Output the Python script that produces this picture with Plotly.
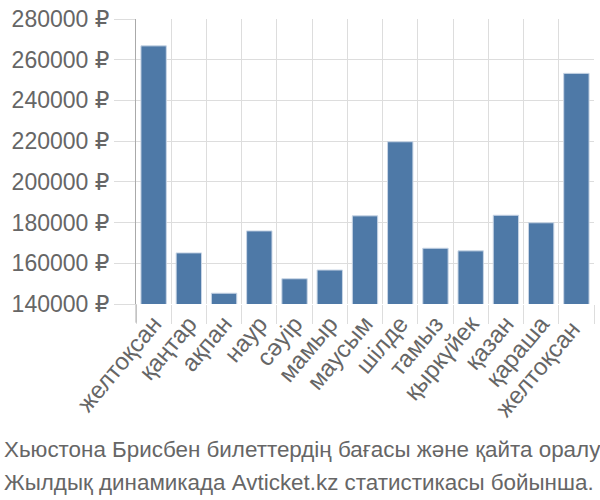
import plotly.graph_objects as go

months = ["желтоқсан", "қаңтар", "ақпан", "наур", "сәуір", "мамыр", "маусым",
          "шілде", "тамыз", "қыркүйек", "қазан", "қараша", "желтоқсан "]
prices = [266800, 165100, 145300, 175900, 152400, 156700, 183300,
          219700, 167400, 166100, 183600, 179900, 253300]
y_ticks = [140000, 160000, 180000, 200000, 220000, 240000, 260000, 280000]
y_tick_text = [f"{v} ₽" for v in y_ticks]
title_lines = ["Хьюстона Брисбен билеттердің бағасы және қайта оралу",
               "Жылдық динамикада Avticket.kz статистикасы бойынша."]

font_family = "Liberation Sans, DejaVu Sans, Noto Sans, sans-serif"
text_color = "#666666"
grid_color = "#dddddd"
plot_h = 500 - 14 - 196

fig = go.Figure(go.Bar(
    x=months, y=prices,
    marker=dict(color="#4e79a7", line=dict(color="#c9d6e6", width=1)),
    width=0.72,
))

fig.update_layout(
    width=600, height=500,
    margin=dict(l=136, r=6, t=14, b=196),
    paper_bgcolor="white", plot_bgcolor="white",
    showlegend=False,
    font=dict(family=font_family, color=text_color),
    xaxis=dict(
        type="category",
        tickson="boundaries",
        showgrid=True, gridcolor=grid_color, gridwidth=1,
        ticks="outside", ticklen=19, tickcolor=grid_color,
        tickangle=-50,
        tickfont=dict(size=24, color=text_color),
        showline=False,
        zeroline=False,
    ),
    yaxis=dict(
        range=[140000, 280000],
        tickvals=y_ticks,
        ticktext=y_tick_text,
        showgrid=True, gridcolor=grid_color, gridwidth=1,
        ticks="outside", ticklen=21, tickcolor=grid_color,
        tickfont=dict(size=23, color=text_color),
        showline=True, linecolor="#aaaaaa", linewidth=1,
        zeroline=False,
    ),
    shapes=[dict(type="line", xref="paper", yref="paper", x0=0, x1=0,
                 y0=0, y1=-19 / plot_h, line=dict(color="#aaaaaa", width=1))],
    annotations=[
        dict(xref="paper", yref="paper", x=0, y=0, xanchor="left", yanchor="middle",
             xshift=-134, yshift=-(449 - 304), text=title_lines[0], showarrow=False,
             font=dict(size=22.4, color=text_color, family=font_family)),
        dict(xref="paper", yref="paper", x=0, y=0, xanchor="left", yanchor="middle",
             xshift=-134, yshift=-(482 - 304), text=title_lines[1], showarrow=False,
             font=dict(size=22.4, color=text_color, family=font_family)),
    ],
)

fig.write_html("out.html")
